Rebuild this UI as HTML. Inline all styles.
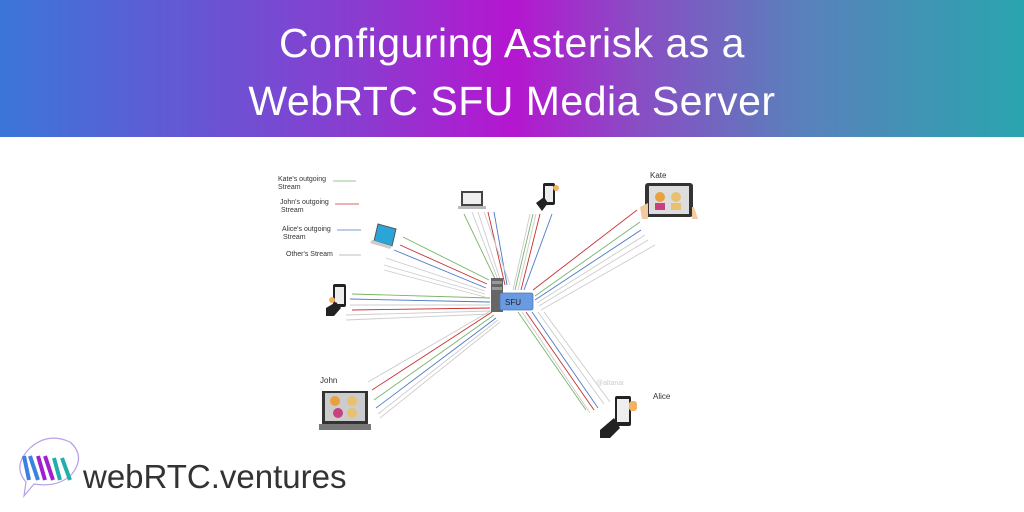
<!DOCTYPE html>
<html><head><meta charset="utf-8"><style>
body{margin:0;width:1024px;height:512px;overflow:hidden;background:#fff;font-family:"Liberation Sans",sans-serif;position:relative}
.hdr{position:absolute;left:0;top:0;width:1024px;height:137px;background:linear-gradient(90deg,#3b76d8 0%,#8a3cd0 35%,#b516d0 50%,#8a4cc4 62%,#5a80bc 78%,#2aa5ae 100%)}
.t{position:absolute;left:0;width:1024px;text-align:center;color:#fff;font-size:41px;font-weight:300;letter-spacing:0.5px}
.logo{position:absolute;left:83px;top:458px;font-size:33px;color:#333;letter-spacing:0px}
</style></head><body>
<div class="hdr"></div>
<div class="t" style="top:20px">Configuring Asterisk as a</div>
<div class="t" style="top:78px">WebRTC SFU Media Server</div>
<svg width="1024" height="512" style="position:absolute;left:0;top:0">
<g font-size="7" fill="#333">
<text x="278" y="181">Kate's outgoing</text><text x="278" y="189">Stream</text>
<text x="280" y="204">John's outgoing</text><text x="281" y="212">Stream</text>
<text x="282" y="231">Alice's outgoing</text><text x="283" y="239">Stream</text>
<text x="286" y="256">Other's  Stream</text>
<text x="320" y="383" font-size="8">John</text>
<text x="650" y="178" font-size="8">Kate</text>
<text x="653" y="399" font-size="8">Alice</text>
<text x="596" y="385" fill="#ccc" font-size="7">@altanai</text>
</g>
<g stroke-width="0.8">
<line x1="333" y1="181" x2="356" y2="181" stroke="#7ab36a"/>
<line x1="335" y1="204" x2="359" y2="204" stroke="#c83030"/>
<line x1="337" y1="230" x2="361" y2="230" stroke="#4a7ac8"/>
<line x1="339" y1="255" x2="361" y2="255" stroke="#aaa"/>
</g>
<g stroke-width="0.9" fill="none">
<line x1="498" y1="285" x2="464" y2="214" stroke="#7ab36a"/>
<line x1="500" y1="285" x2="472" y2="212" stroke="#ccc"/>
<line x1="502" y1="285" x2="478" y2="212" stroke="#ccc"/>
<line x1="505" y1="285" x2="488" y2="212" stroke="#c83030"/>
<line x1="507" y1="285" x2="494" y2="212" stroke="#4a7ac8"/>
<line x1="510" y1="285" x2="484" y2="212" stroke="#ccc"/>
<line x1="515" y1="290" x2="533" y2="214" stroke="#7ab36a"/>
<line x1="518" y1="290" x2="536" y2="214" stroke="#ccc"/>
<line x1="521" y1="290" x2="540" y2="214" stroke="#c83030"/>
<line x1="524" y1="290" x2="552" y2="214" stroke="#4a7ac8"/>
<line x1="513" y1="290" x2="530" y2="214" stroke="#ccc"/>
<line x1="533" y1="290" x2="637" y2="210" stroke="#c83030"/>
<line x1="535" y1="296" x2="640" y2="222" stroke="#7ab36a"/>
<line x1="535" y1="300" x2="641" y2="230" stroke="#4a7ac8"/>
<line x1="537" y1="303" x2="645" y2="235" stroke="#ccc"/>
<line x1="539" y1="306" x2="648" y2="240" stroke="#ccc"/>
<line x1="541" y1="310" x2="655" y2="245" stroke="#ccc"/>
<line x1="489" y1="280" x2="403" y2="237" stroke="#7ab36a"/>
<line x1="487" y1="284" x2="400" y2="245" stroke="#c83030"/>
<line x1="486" y1="288" x2="394" y2="250" stroke="#4a7ac8"/>
<line x1="485" y1="291" x2="386" y2="258" stroke="#ccc"/>
<line x1="485" y1="294" x2="384" y2="265" stroke="#ccc"/>
<line x1="485" y1="297" x2="384" y2="270" stroke="#ccc"/>
<line x1="490" y1="298" x2="352" y2="294" stroke="#7ab36a"/>
<line x1="490" y1="302" x2="350" y2="299" stroke="#4a7ac8"/>
<line x1="490" y1="305" x2="350" y2="305" stroke="#ccc"/>
<line x1="490" y1="308" x2="352" y2="310" stroke="#c83030"/>
<line x1="490" y1="311" x2="346" y2="315" stroke="#ccc"/>
<line x1="490" y1="314" x2="346" y2="320" stroke="#ccc"/>
<line x1="492" y1="310" x2="368" y2="382" stroke="#ccc"/>
<line x1="492" y1="312" x2="372" y2="390" stroke="#c83030"/>
<line x1="494" y1="315" x2="374" y2="400" stroke="#7ab36a"/>
<line x1="496" y1="318" x2="376" y2="408" stroke="#4a7ac8"/>
<line x1="498" y1="320" x2="378" y2="414" stroke="#ccc"/>
<line x1="500" y1="322" x2="380" y2="418" stroke="#ccc"/>
<line x1="518" y1="312" x2="586" y2="410" stroke="#7ab36a"/>
<line x1="522" y1="312" x2="590" y2="413" stroke="#ccc"/>
<line x1="526" y1="312" x2="594" y2="410" stroke="#c83030"/>
<line x1="532" y1="312" x2="598" y2="408" stroke="#4a7ac8"/>
<line x1="538" y1="312" x2="604" y2="404" stroke="#ccc"/>
<line x1="544" y1="312" x2="610" y2="402" stroke="#ccc"/>
</g>
<rect x="491" y="278" width="12" height="34" fill="#666"/>
<rect x="492" y="281" width="10" height="3" fill="#999"/>
<rect x="492" y="287" width="10" height="3" fill="#999"/>
<rect x="500" y="293" width="33" height="17" rx="2" fill="#6a9ae0" stroke="#4a78c0" stroke-width="0.8"/>
<text x="505" y="305" font-size="8" fill="#222">SFU</text>
<rect x="461" y="191" width="22" height="15" fill="#444"/><rect x="463" y="193" width="18" height="11" fill="#eee"/><rect x="458" y="206" width="28" height="3" fill="#bbb"/>
<rect x="543" y="183" width="12" height="22" rx="2" fill="#222"/><rect x="545" y="186" width="8" height="16" fill="#eee"/><path d="M536 203 l8 -6 l4 6 l-6 8 z" fill="#222"/><circle cx="556" cy="188" r="3" fill="#f4b063"/>
<rect x="645" y="183" width="48" height="34" rx="3" fill="#333"/><rect x="649" y="186" width="40" height="28" fill="#ddd"/>
<circle cx="660" cy="197" r="5" fill="#e8a040"/><circle cx="676" cy="197" r="5" fill="#e8c070"/><rect x="655" y="203" width="10" height="7" fill="#c84080"/><rect x="671" y="203" width="10" height="7" fill="#e8c070"/>
<path d="M640 207 l8 -4 l0 16 l-6 0 z M694 207 l4 12 l-6 0 l0 -12 z" fill="#f3c9a0"/>
<path d="M378 224 l18 5 l-4 17 l-18 -5 z" fill="#2aa5d8" stroke="#555" stroke-width="1"/><path d="M372 240 l20 6 l-2 3 l-20 -6 z" fill="#ccc"/>
<rect x="333" y="284" width="13" height="23" rx="2" fill="#222"/><rect x="335" y="287" width="9" height="17" fill="#eee"/><path d="M326 308 l10 -6 l5 6 l-7 8 l-8 0 z" fill="#222"/><circle cx="332" cy="300" r="3" fill="#f4b063"/>
<rect x="322" y="391" width="46" height="33" fill="#333"/><rect x="325" y="393" width="40" height="28" fill="#ccc"/>
<circle cx="335" cy="401" r="5" fill="#e8a040"/><circle cx="352" cy="401" r="5" fill="#e8c070"/><circle cx="338" cy="413" r="5" fill="#c84080"/><circle cx="352" cy="413" r="5" fill="#e8c070"/>
<rect x="319" y="424" width="52" height="6" fill="#777"/>
<rect x="615" y="396" width="16" height="30" rx="2" fill="#222"/><rect x="617" y="399" width="12" height="23" fill="#eee"/><path d="M600 430 l14 -12 l6 10 l-10 10 l-10 0 z" fill="#222"/><rect x="629" y="401" width="8" height="10" rx="3" fill="#f4b063"/>
<path d="M30 448 q18 -16 40 -6 q16 14 2 32 q-14 14 -38 10 l-10 12 l2 -14 q-14 -16 4 -34z" fill="none" stroke="#b8a0e8" stroke-width="1.2"/>
<path d="M24 456 l5 24 M30 456 l8 24" stroke="#3c80e0" stroke-width="4"/>
<path d="M38 456 l7 24 M45 456 l8 24" stroke="#a020d0" stroke-width="4"/>
<path d="M54 458 l6 22 M62 458 l8 22" stroke="#20b0a8" stroke-width="4"/>
</svg>
<div class="logo">webRTC.ventures</div>
</body></html>
